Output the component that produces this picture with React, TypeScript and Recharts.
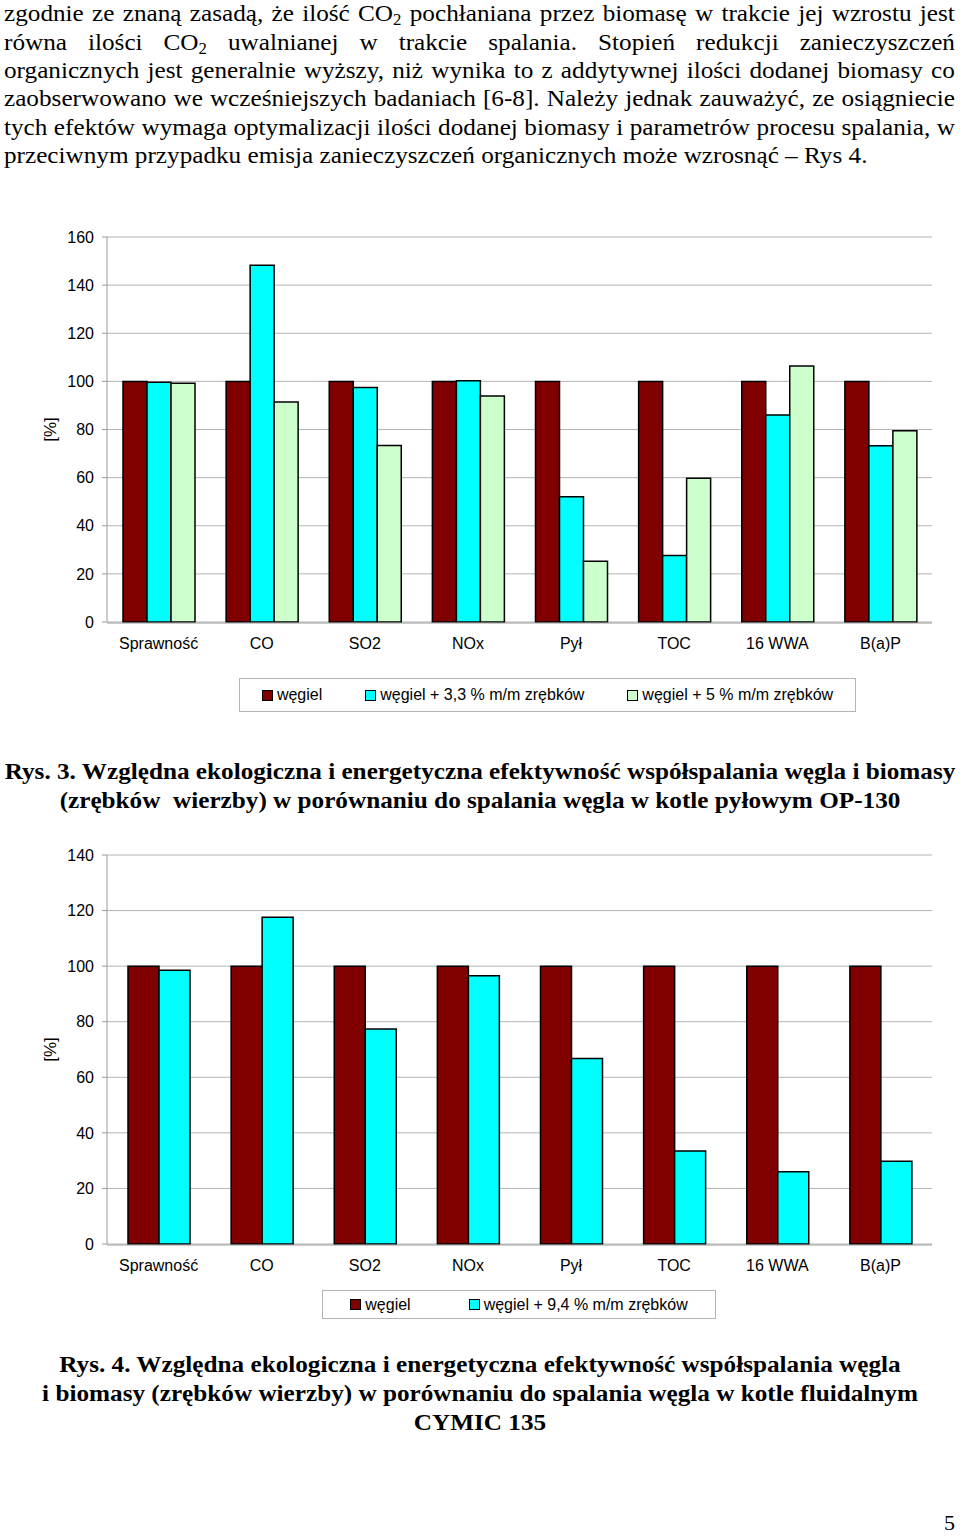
import React from 'react';
import { BarChart, Bar, XAxis, YAxis, CartesianGrid, Legend, ReferenceLine } from 'recharts';

// ---------- data ----------
const categories = ['Sprawność', 'CO', 'SO2', 'NOx', 'Pył', 'TOC', '16 WWA', 'B(a)P'];

const fig3Names = ['węgiel', 'węgiel + 3,3 % m/m zrębków', 'węgiel + 5 % m/m zrębków'];
const fig3Coal = [100, 100, 100, 100, 100, 100, 100, 100];
const fig3Mix33 = [99.6, 148.3, 97.5, 100.3, 52.1, 27.6, 86.0, 73.2];
const fig3Mix5 = [99.2, 91.4, 73.3, 93.9, 25.2, 59.7, 106.4, 79.5];
const fig3Ticks = [0, 20, 40, 60, 80, 100, 120, 140, 160];

const fig4Names = ['węgiel', 'węgiel + 9,4 % m/m zrębków'];
const fig4Coal = [100, 100, 100, 100, 100, 100, 100, 100];
const fig4Mix94 = [98.5, 117.6, 77.4, 96.5, 66.8, 33.5, 26.0, 29.8];
const fig4Ticks = [0, 20, 40, 60, 80, 100, 120, 140];

const seriesColors = ['#800000', '#00FFFF', '#CCFFCC'];

const paragraphLines = [
  'zgodnie ze znaną zasadą, że ilość CO_2 pochłaniana przez biomasę w trakcie jej wzrostu jest',
  'równa ilości CO_2 uwalnianej w trakcie spalania. Stopień redukcji zanieczyszczeń',
  'organicznych jest generalnie wyższy, niż wynika to z addytywnej ilości dodanej biomasy co',
  'zaobserwowano we wcześniejszych badaniach [6-8]. Należy jednak zauważyć, ze osiągniecie',
  'tych efektów wymaga optymalizacji ilości dodanej biomasy i parametrów procesu spalania, w',
  'przeciwnym przypadku emisja zanieczyszczeń organicznych może wzrosnąć – Rys 4.',
];
const caption3 = [
  'Rys. 3. Względna ekologiczna i energetyczna efektywność współspalania węgla i biomasy',
  '(zrębków  wierzby) w porównaniu do spalania węgla w kotle pyłowym OP-130',
];
const caption4 = [
  'Rys. 4. Względna ekologiczna i energetyczna efektywność współspalania węgla',
  'i biomasy (zrębków wierzby) w porównaniu do spalania węgla w kotle fluidalnym',
  'CYMIC 135',
];
const pageNumber = '5';

const fig3Data = categories.map((name, i) => ({
  name,
  coal: fig3Coal[i],
  mixA: fig3Mix33[i],
  mixB: fig3Mix5[i],
}));
const fig4Data = categories.map((name, i) => ({
  name,
  coal: fig4Coal[i],
  mixA: fig4Mix94[i],
}));
const boundaryTicks = Array.from({ length: categories.length + 1 }, (_, i) => i);

// ---------- styles ----------
const SERIF = '"Liberation Serif", "Times New Roman", serif';
const SANS = '"Liberation Sans", Arial, sans-serif';
const GRID = '#b4b4b4';
const AXIS = '#9a9a9a';
const STRETCH = 1.05;
const tickStyle = { fontSize: 16, fill: '#000', fontFamily: SANS };

const renderWord = (w: string, key: number) => {
  if (w.includes('_2')) {
    const [a, b] = w.split('_2');
    return (
      <span key={key}>
        {a}
        <span style={{ fontSize: 16, position: 'relative', top: 4 }}>2</span>
        {b}
      </span>
    );
  }
  return <span key={key}>{w}</span>;
};

const LegendBox = (props: any) => {
  const { payload = [], gap } = props;
  return (
    <div
      style={{
        border: '1px solid ' + GRID,
        boxSizing: 'border-box',
        width: '100%',
        height: '100%',
        display: 'flex',
        alignItems: 'center',
        justifyContent: 'center',
        gap,
        fontFamily: SANS,
        fontSize: 16,
        color: '#000',
        background: '#fff',
      }}
    >
      {payload.map((p: any, i: number) => (
        <span key={i} style={{ display: 'flex', alignItems: 'center', whiteSpace: 'nowrap' }}>
          <span
            style={{
              display: 'inline-block',
              width: 9,
              height: 9,
              border: '1.5px solid #000',
              background: p.color,
              marginRight: 4,
            }}
          />
          {p.value}
        </span>
      ))}
    </div>
  );
};

const yLabel = {
  value: '[%]',
  angle: -90,
  position: 'insideLeft',
  offset: 30,
  style: { textAnchor: 'middle', fontSize: 17, fill: '#000', fontFamily: SANS },
};

const Fig3 = () => (
  <BarChart
    width={960}
    height={500}
    data={fig3Data}
    margin={{ top: 17, right: 28, left: 20, bottom: 96 }}
    barCategoryGap={16}
    barGap={0}
  >
    <CartesianGrid vertical={false} stroke={GRID} />
    <XAxis
      xAxisId="b"
      type="number"
      domain={[0, categories.length]}
      ticks={boundaryTicks}
      tick={false}
      tickSize={5}
      stroke={AXIS}
      height={1}
      allowDataOverflow
    />
    <XAxis
      dataKey="name"
      axisLine={false}
      tickLine={false}
      tickSize={0}
      tickMargin={16}
      height={1}
      interval={0}
      tick={tickStyle}
    />
    <YAxis
      domain={[0, 160]}
      ticks={fig3Ticks}
      interval={0}
      width={87}
      stroke={AXIS}
      tickSize={5}
      tickMargin={8}
      tick={tickStyle}
      label={yLabel as any}
    />
    <ReferenceLine xAxisId="b" x={categories.length} stroke={GRID} />
    <Bar dataKey="coal" name={fig3Names[0]} fill={seriesColors[0]} stroke="#000" strokeWidth={1.5} isAnimationActive={false} />
    <Bar dataKey="mixA" name={fig3Names[1]} fill={seriesColors[1]} stroke="#000" strokeWidth={1.5} isAnimationActive={false} />
    <Bar dataKey="mixB" name={fig3Names[2]} fill={seriesColors[2]} stroke="#000" strokeWidth={1.5} isAnimationActive={false} />
    <Legend
      layout="horizontal"
      verticalAlign="middle"
      align="center"
      content={(p: any) => <LegendBox {...p} gap={43} />}
      wrapperStyle={{ left: 239, top: 458, width: 617, height: 34 }}
    />
  </BarChart>
);

const Fig4 = () => (
  <BarChart
    width={960}
    height={490}
    data={fig4Data}
    margin={{ top: 15, right: 28, left: 20, bottom: 84 }}
    barCategoryGap={21}
    barGap={0}
  >
    <CartesianGrid vertical={false} stroke={GRID} />
    <XAxis
      xAxisId="b"
      type="number"
      domain={[0, categories.length]}
      ticks={boundaryTicks}
      tick={false}
      tickSize={5}
      stroke={AXIS}
      height={1}
      allowDataOverflow
    />
    <XAxis
      dataKey="name"
      axisLine={false}
      tickLine={false}
      tickSize={0}
      tickMargin={16}
      height={1}
      interval={0}
      tick={tickStyle}
    />
    <YAxis
      domain={[0, 140]}
      ticks={fig4Ticks}
      interval={0}
      width={87}
      stroke={AXIS}
      tickSize={5}
      tickMargin={8}
      tick={tickStyle}
      label={yLabel as any}
    />
    <ReferenceLine xAxisId="b" x={categories.length} stroke={GRID} />
    <Bar dataKey="coal" name={fig4Names[0]} fill={seriesColors[0]} stroke="#000" strokeWidth={1.5} isAnimationActive={false} />
    <Bar dataKey="mixA" name={fig4Names[1]} fill={seriesColors[1]} stroke="#000" strokeWidth={1.5} isAnimationActive={false} />
    <Legend
      layout="horizontal"
      verticalAlign="middle"
      align="center"
      content={(p: any) => <LegendBox {...p} gap={58} />}
      wrapperStyle={{ left: 322, top: 450, width: 394, height: 29 }}
    />
  </BarChart>
);

// baseline -> top for lineHeight == fontSize with Liberation Serif
const topFor = (baseline: number, fs: number) => baseline - fs * 0.8375;

export default function App() {
  return (
    <div
      style={{
        position: 'absolute',
        left: 0,
        top: 0,
        width: 960,
        height: 1537,
        overflow: 'hidden',
        background: '#fff',
        color: '#000',
      }}
    >
      {paragraphLines.map((line, i) => {
        const isLast = i === paragraphLines.length - 1;
        const words = line.split(' ');
        return (
          <div
            key={i}
            style={{
              position: 'absolute',
              left: 4,
              top: topFor(21.3 + i * 28.4, 24),
              width: isLast ? 'auto' : 951 / STRETCH,
              fontFamily: SERIF,
              fontSize: 24,
              lineHeight: '24px',
              whiteSpace: 'pre',
              display: isLast ? 'block' : 'flex',
              justifyContent: 'space-between',
              transform: `scaleX(${STRETCH})`,
              transformOrigin: 'left top',
            }}
          >
            {isLast
              ? words.map((w, k) => (
                  <React.Fragment key={k}>
                    {k > 0 ? ' ' : ''}
                    {renderWord(w, k)}
                  </React.Fragment>
                ))
              : words.map((w, k) => renderWord(w, k))}
          </div>
        );
      })}

      <div style={{ position: 'absolute', left: 0, top: 220 }}>
        <Fig3 />
      </div>

      {caption3.map((line, i) => (
        <div
          key={i}
          style={{
            position: 'absolute',
            left: 0,
            width: 960,
            top: topFor(779 + i * 29, 24),
            textAlign: 'center',
            fontFamily: SERIF,
            fontWeight: 'bold',
            fontSize: 24,
            lineHeight: '24px',
            whiteSpace: 'pre',
            transform: `scaleX(${STRETCH})`,
            transformOrigin: '480px top',
          }}
        >
          {line}
        </div>
      ))}

      <div style={{ position: 'absolute', left: 0, top: 840 }}>
        <Fig4 />
      </div>

      {caption4.map((line, i) => (
        <div
          key={i}
          style={{
            position: 'absolute',
            left: 0,
            width: 960,
            top: topFor(1372 + i * 29, 24),
            textAlign: 'center',
            fontFamily: SERIF,
            fontWeight: 'bold',
            fontSize: 24,
            lineHeight: '24px',
            whiteSpace: 'pre',
            transform: `scaleX(${STRETCH})`,
            transformOrigin: '480px top',
          }}
        >
          {line}
        </div>
      ))}

      <div
        style={{
          position: 'absolute',
          right: 5,
          top: topFor(1530, 22),
          fontFamily: SERIF,
          fontSize: 22,
          lineHeight: '22px',
        }}
      >
        {pageNumber}
      </div>
    </div>
  );
}
